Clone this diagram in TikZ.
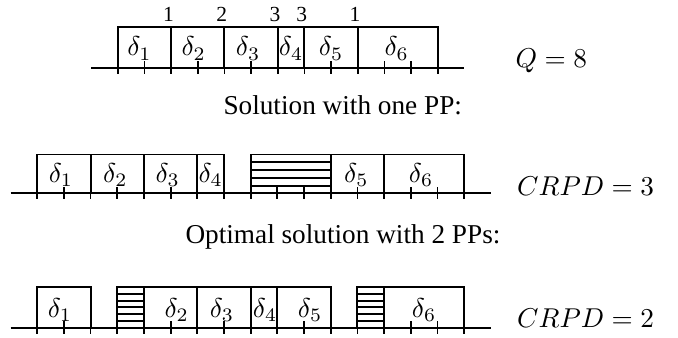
\RequirePackage{fix-cm}
\documentclass[tikz,border=0pt]{standalone}
\usepackage{fontspec}
\setmainfont{Liberation Serif}
\begin{document}
\begin{tikzpicture}[x=0.4pt,y=-0.4pt,
  axisline/.style={line width=0.8pt},
  boxline/.style={line width=0.72pt},
  tickline/.style={line width=0.68pt},
  hatchline/.style={line width=0.8pt},
  dlabel/.style={anchor=base,inner sep=0pt,font=\fontsize{10.9}{13}\selectfont},
  cnt/.style={anchor=base,inner sep=0pt,font=\fontsize{8.6}{10}\selectfont},
  captext/.style={anchor=base west,inner sep=0pt,font=\fontsize{10.9}{13}\selectfont}]
\useasboundingbox (0,0) rectangle (678,338);

% ---------- Row 1 ----------
\begin{scope}[shift={(117.7,68)},x=10.668pt]
  \draw[axisline] (-1,0) -- (13,0);
  \foreach \i in {0,...,12} \draw[tickline] (\i,0) -- (\i,6);
  \foreach \i in {1,3,5,8,10,11} \draw[tickline] (\i,0) -- (\i,-6.5);
  \draw[boxline] (0,0) -- (0,-41) -- (12,-41) -- (12,0);
  \foreach \i in {2,4,6,7,9} \draw[boxline] (\i,0) -- (\i,-41);
  \foreach \a/\b/\n/\d in {0/2/1/-5,2/4/2/-4,4/6/3/-3,6/7/4/0,7/9/5/0,9/12/6/-1}
    \node[dlabel,xshift=\d*0.4pt] (ra\n) at ({(\a+\b)/2},-12) {$\delta_{\n}$};
  \node[cnt] (ca) at (1.9,-46.5) {1};
  \node[cnt] (cb) at (3.9,-46.5) {2};
  \node[cnt] (cc) at (5.9,-46.5) {3};
  \node[cnt] (cd) at (6.9,-46.5) {3};
  \node[cnt] (ce) at (8.9,-46.5) {1};
\end{scope}

% ---------- Row 2 ----------
\begin{scope}[shift={(37.3,193.5)},x=10.668pt]
  \draw[axisline] (-1,0) -- (17,0);
  \foreach \i in {0,...,16} \draw[tickline] (\i,0) -- (\i,6);
  \foreach \i in {1,3,5,9,10,12,14,15} \draw[tickline] (\i,0) -- (\i,-6.5);
  \draw[boxline] (0,0) -- (0,-39) -- (7,-39) -- (7,0);
  \foreach \i in {2,4,6} \draw[boxline] (\i,0) -- (\i,-39);
  \draw[boxline] (8,0) -- (8,-39) -- (16,-39) -- (16,0);
  \foreach \i in {11,13} \draw[boxline] (\i,0) -- (\i,-39);
  \foreach \h in {1,...,4} \draw[hatchline] (8,{-\h*7.8}) -- (11,{-\h*7.8});
  \foreach \a/\b/\n/\d in {0/2/1/-3,2/4/2/-2,4/6/3/-3,6/7/4/0,11/13/5/-1,13/16/6/-3}
    \node[dlabel,xshift=\d*0.4pt] (rb\n) at ({(\a+\b)/2},-11) {$\delta_{\n}$};
\end{scope}

% ---------- Row 3 ----------
\begin{scope}[shift={(37.3,327.7)},x=10.668pt]
  \draw[axisline] (-1,0) -- (17,0);
  \foreach \i in {0,...,16} \draw[tickline] (\i,0) -- (\i,6);
  \foreach \i in {1,5,7,10,14,15} \draw[tickline] (\i,0) -- (\i,-6.5);
  \draw[boxline] (0,0) -- (0,-40.5) -- (2,-40.5) -- (2,0);
  \draw[boxline] (3,0) -- (3,-40.5) -- (11,-40.5) -- (11,0);
  \foreach \i in {4,6,8,9} \draw[boxline] (\i,0) -- (\i,-40.5);
  \draw[boxline] (12,0) -- (12,-40.5) -- (16,-40.5) -- (16,0);
  \draw[boxline] (13,0) -- (13,-40.5);
  \foreach \h in {1,...,5} {
    \draw[hatchline] (3,{-\h*6.75}) -- (4,{-\h*6.75});
    \draw[hatchline] (12,{-\h*6.75}) -- (13,{-\h*6.75});
  }
  \foreach \a/\b/\n/\d in {0/2/1/-4,4/6/2/6,6/8/3/-2,8/9/4/1,9/11/5/6,13/16/6/0}
    \node[dlabel,xshift=\d*0.4pt] (rc\n) at ({(\a+\b)/2},-10.5) {$\delta_{\n}$};
\end{scope}

% ---------- texts ----------
\node[captext] (q) at (515,68) {$Q=8$};
\node[captext] (t1) at (223,115) {Solution with one PP:};
\node[captext] (k1) at (516.7,195.7) {$CRPD=3$};
\node[captext] (t2) at (185,244) {Optimal solution with 2 PPs:};
\node[captext] (k2) at (516.7,327.7) {$CRPD=2$};
\end{tikzpicture}
\end{document}
